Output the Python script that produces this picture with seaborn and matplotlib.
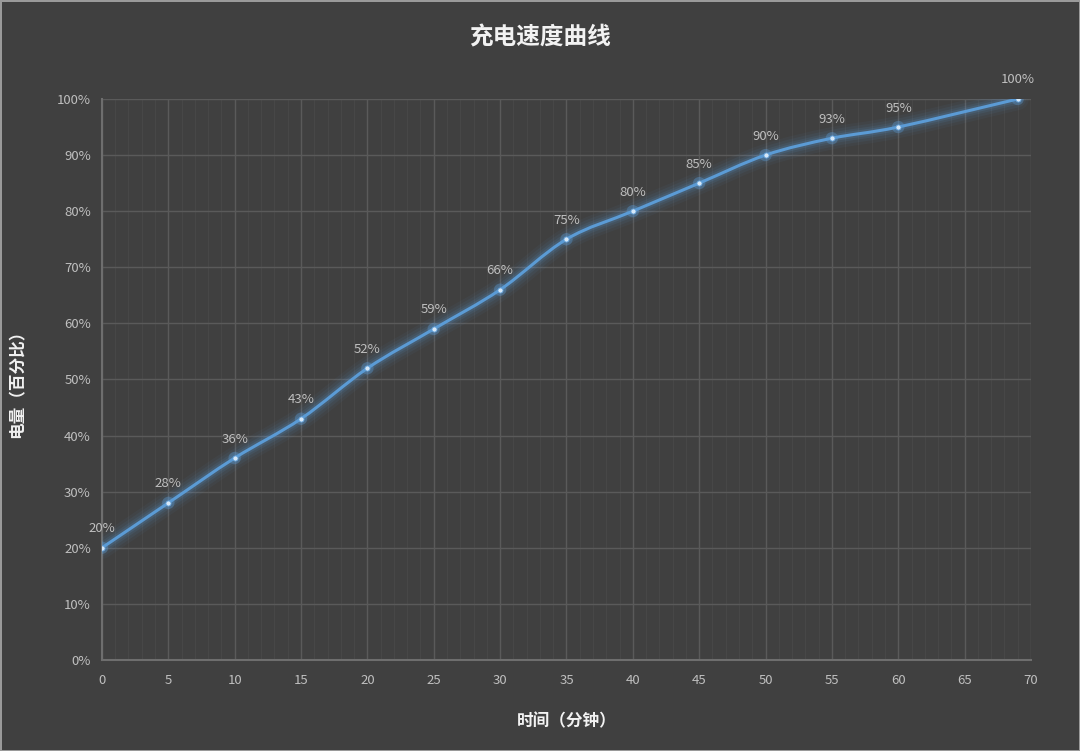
import matplotlib
matplotlib.use('Agg')
import matplotlib.pyplot as plt
import seaborn as sns
import numpy as np
import pandas as pd
from matplotlib.path import Path
from matplotlib.patches import PathPatch
from matplotlib.ticker import MultipleLocator, FuncFormatter

# data
minutes = [0, 5, 10, 15, 20, 25, 30, 35, 40, 45, 50, 55, 60, 69]
battery = [20, 28, 36, 43, 52, 59, 66, 75, 80, 85, 90, 93, 95, 100]
title = '充电速度曲线'
xlabel = '时间（分钟）'
ylabel = '电量（百分比）'

BG = '#404040'
LINE = '#5b9bd5'
TXT = '#bfbfbf'

sns.set_theme(style='dark')
plt.rcParams['font.family'] = ['Noto Sans CJK SC', 'DejaVu Sans']

df = pd.DataFrame({'min': minutes, 'pct': battery})

fig = plt.figure(figsize=(10.8, 7.51), dpi=100, facecolor=BG)
fig.patch.set_edgecolor('#9a9a9a')
fig.patch.set_linewidth(2)
ax = fig.add_axes([0.0944, 0.1212, 0.8602, 0.747])
ax.set_facecolor(BG)


def smooth_path(xs, ys):
    # Excel-style smoothed line: cubic bezier through the points
    pts = np.column_stack([xs, ys]).astype(float)
    n = len(pts)
    verts = [pts[0]]
    codes = [Path.MOVETO]
    for i in range(n - 1):
        p0 = pts[i - 1] if i > 0 else pts[i]
        p1, p2 = pts[i], pts[i + 1]
        p3 = pts[i + 2] if i + 2 < n else pts[i + 1]
        c1 = p1 + (p2 - p0) / 6.0
        c2 = p2 - (p3 - p1) / 6.0
        verts += [c1, c2, p2]
        codes += [Path.CURVE4] * 3
    return Path(verts, codes)


path = smooth_path(df['min'], df['pct'])
# glow under the line
for lw, a in [(16, 0.05), (12, 0.07), (8, 0.1), (5, 0.16)]:
    ax.add_patch(PathPatch(path, facecolor='none', edgecolor=LINE, lw=lw, alpha=a,
                           capstyle='round', joinstyle='round', zorder=3))
ax.add_patch(PathPatch(path, facecolor='none', edgecolor=LINE, lw=2.2, zorder=4))

sns.scatterplot(data=df, x='min', y='pct', ax=ax, s=80, color=LINE, alpha=0.35,
                edgecolor='none', zorder=5, legend=False)
sns.scatterplot(data=df, x='min', y='pct', ax=ax, s=14, color='#d6e8f8',
                edgecolor=LINE, linewidth=0.6, zorder=6, legend=False)

for xv, yv in zip(minutes, battery):
    ax.annotate(f'{yv}%', (xv, yv), xytext=(0, 9), textcoords='offset points',
                ha='center', va='bottom', color=TXT, fontsize=9.5)

ax.set_xlim(0, 70)
ax.set_ylim(0, 100)
ax.xaxis.set_major_locator(MultipleLocator(5))
ax.xaxis.set_minor_locator(MultipleLocator(1))
ax.yaxis.set_major_locator(MultipleLocator(10))
ax.yaxis.set_major_formatter(FuncFormatter(lambda v, p: f'{v:.0f}%'))

ax.grid(which='major', color='#5a5a5a', lw=1)
ax.grid(which='minor', axis='x', color='#474747', lw=0.8)
ax.set_axisbelow(True)
for side in ['top', 'right']:
    ax.spines[side].set_visible(False)
for side in ['left', 'bottom']:
    ax.spines[side].set_visible(True)
    ax.spines[side].set_color('#6e6e6e')
    ax.spines[side].set_linewidth(1.5)

ax.tick_params(axis='both', which='both', colors=TXT, labelsize=9.5, length=0)
ax.tick_params(axis='x', pad=10)
ax.tick_params(axis='y', pad=8)

ax.set_xlabel(xlabel, color='#f2f2f2', fontsize=12, fontweight='bold', labelpad=18)
ax.set_ylabel(ylabel, color='#f2f2f2', fontsize=12, fontweight='bold')
ax.yaxis.set_label_coords(-0.081, 0.5)
fig.text(0.5, 0.95, title, ha='center', va='center', color='#f2f2f2',
         fontsize=17, fontweight='bold')

fig.savefig('out.png', dpi=100, facecolor=BG, edgecolor='#9a9a9a')
